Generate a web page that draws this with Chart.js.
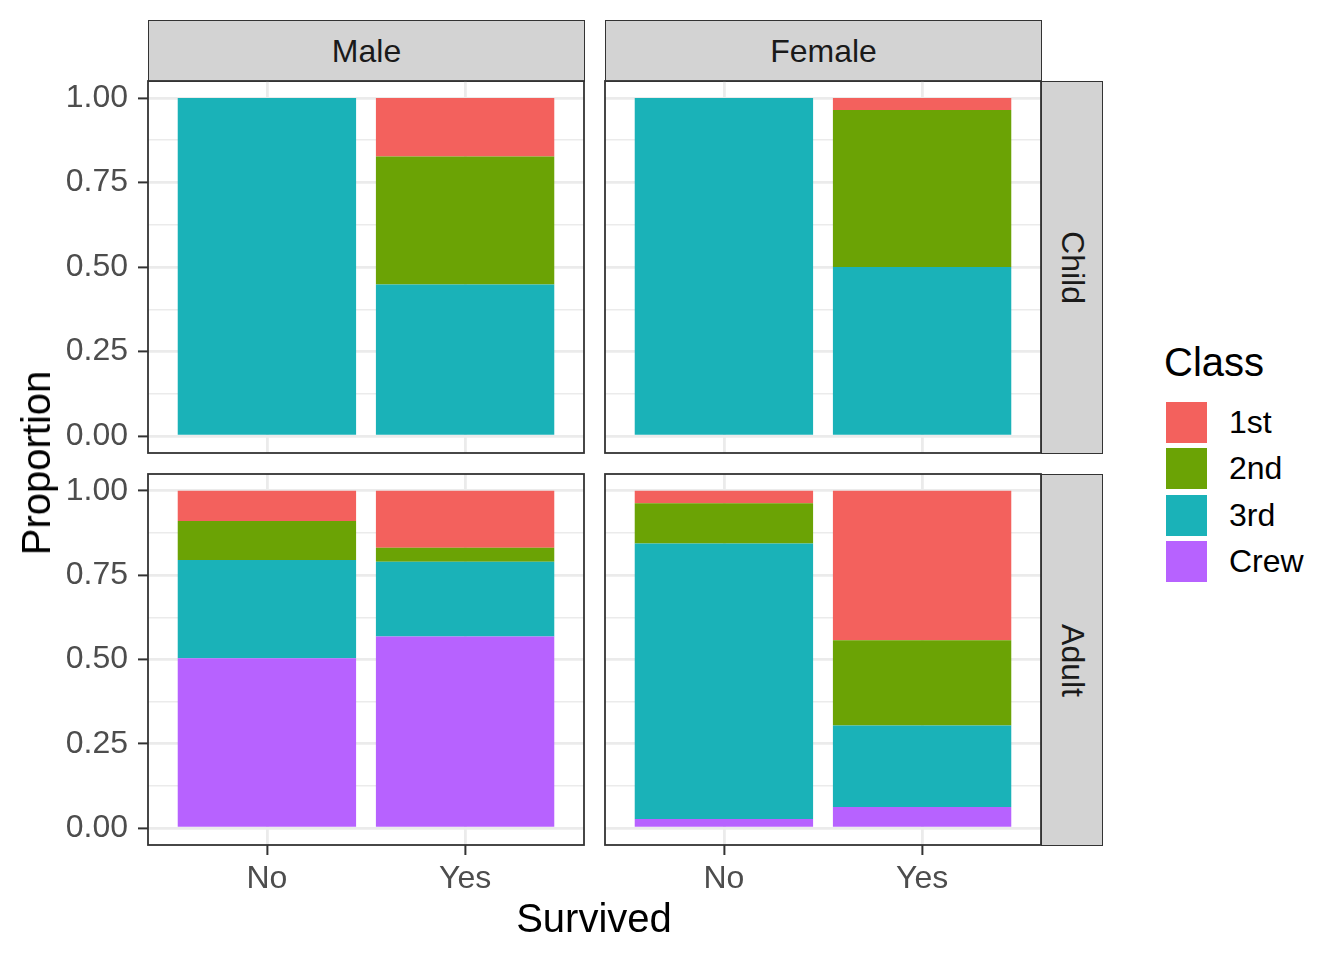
<!DOCTYPE html>
<html><head><meta charset="utf-8">
<script src="https://cdn.jsdelivr.net/npm/chart.js@4.4.1/dist/chart.umd.min.js"></script>
<style>
body{margin:0;background:#fff;font-family:"Liberation Sans",Arial,sans-serif;}
#wrap{position:relative;width:1344px;height:960px;overflow:hidden;background:#fff}
canvas{position:absolute}
.strip{position:absolute;background:#D3D3D3;border:1.8px solid #333;box-sizing:border-box;display:flex;align-items:center;justify-content:center;color:#1A1A1A;font-size:32px}
.vt{transform:rotate(90deg);white-space:nowrap}
.key{position:absolute;left:1166px;width:41px;height:41px}
.klab{position:absolute;left:1229px;font-size:32px;color:#000;line-height:41px;height:41px}
.title{position:absolute;font-size:40px;line-height:40px;color:#000;white-space:nowrap}
</style></head><body><div id="wrap">
<div class="strip" style="left:148px;top:20px;width:437px;height:62px">Male</div>
<div class="strip" style="left:605px;top:20px;width:437px;height:62px">Female</div>
<div class="strip" style="left:1041px;top:81px;width:62px;height:373px"><span class="vt">Child</span></div>
<div class="strip" style="left:1041px;top:474px;width:62px;height:372px"><span class="vt">Adult</span></div>
<canvas id="c0"></canvas><canvas id="c1"></canvas><canvas id="c2"></canvas><canvas id="c3"></canvas>
<div class="title" style="left:36px;top:463px;transform:translate(-50%,-50%) rotate(-90deg)">Proportion</div>
<div class="title" style="left:594px;top:918px;transform:translate(-50%,-50%)">Survived</div>
<div class="title" style="left:1164px;top:342px;">Class</div>
<div id="legend"></div>
</div>
<script>
// Order of values in each class array:
// [Male Child No, Male Child Yes, Female Child No, Female Child Yes,
//  Male Adult No, Male Adult Yes, Female Adult No, Female Adult Yes]
const sexes = ['Male', 'Female'];
const ages = ['Child', 'Adult'];
const survived = ['No', 'Yes'];
const classes = ['1st', '2nd', '3rd', 'Crew'];
const p1st  = [0, 0.173, 0, 0.036, 0.089, 0.169, 0.037, 0.443];
const p2nd  = [0, 0.379, 0, 0.464, 0.116, 0.041, 0.119, 0.253];
const p3rd  = [1, 0.448, 1, 0.500, 0.291, 0.222, 0.817, 0.241];
const pCrew = [0, 0,     0, 0,     0.504, 0.568, 0.027, 0.063];
const yMajor = [0, 0.25, 0.5, 0.75, 1];
const yLabels = ['0.00', '0.25', '0.50', '0.75', '1.00'];
const yMinor = [0.125, 0.375, 0.625, 0.875];
const classColors = ['#F3615D', '#6BA305', '#1AB2B8', '#B762FF'];

const classData = [p1st, p2nd, p3rd, pCrew];

// legend
const leg = document.getElementById('legend');
const keyTops = [402, 448, 495, 541];
classes.forEach((c, i) => {
  const k = document.createElement('div'); k.className = 'key';
  k.style.top = keyTops[i] + 'px'; k.style.background = classColors[i]; leg.appendChild(k);
  const l = document.createElement('div'); l.className = 'klab';
  l.style.top = keyTops[i] + 'px'; l.textContent = c; leg.appendChild(l);
});

Chart.defaults.font.family = '"Liberation Sans", Arial, sans-serif';

const panelBorder = {
  id: 'panelBorder',
  afterDraw(chart) {
    const a = chart.chartArea, c = chart.ctx;
    c.save(); c.strokeStyle = '#333333'; c.lineWidth = 1.8;
    c.strokeRect(a.left, a.top, a.right - a.left, a.bottom - a.top);
    c.restore();
  }
};

const panelLeft = [148, 605];
const panelTop = [81, 474];
const panelH = [372, 371];
const panelW = 436;
const PAD = 40;
const isMinor = v => yMinor.includes(v);

function makePanel(ai, si) {
  const k = ai * 2 + si;
  const showY = si === 0, showX = ai === 1;
  const cv = document.getElementById('c' + k);
  const cLeft = showY ? 0 : panelLeft[si] - 10;
  const cTop = panelTop[ai] - PAD;
  const w = panelLeft[si] + panelW + 10 - cLeft;
  const xH = showX ? 70 : 0;
  const h = PAD + panelH[ai] + (showX ? 70 : PAD);
  cv.width = w; cv.height = h;
  cv.style.left = cLeft + 'px'; cv.style.top = cTop + 'px';
  cv.style.width = w + 'px'; cv.style.height = h + 'px';

  // stack bottom to top: Crew, 3rd, 2nd, 1st
  const order = [3, 2, 1, 0];
  const datasets = order.map(ci => ({
    label: classes[ci],
    data: survived.map((s, j) => ({ x: j + 1, y: classData[ci][k * 2 + j] })),
    backgroundColor: classColors[ci],
    borderWidth: 0,
    barPercentage: 0.9,
    categoryPercentage: 1.0
  }));

  new Chart(cv, {
    type: 'bar',
    data: { datasets },
    plugins: [panelBorder],
    options: {
      responsive: false, animation: false, devicePixelRatio: 1,
      layout: { padding: { left: showY ? 0 : 10, right: 10, top: PAD, bottom: showX ? 0 : PAD } },
      plugins: { legend: { display: false }, tooltip: { enabled: false } },
      scales: {
        x: {
          type: 'linear', min: 0.4, max: 2.6, stacked: true, offset: false,
          afterBuildTicks: s => { s.ticks = survived.map((v, i) => ({ value: i + 1 })); },
          afterFit: s => { s.height = xH; },
          ticks: {
            display: showX, autoSkip: false, maxRotation: 0, padding: 5,
            color: '#4D4D4D', font: { size: 32 },
            callback: v => survived[Math.round(v) - 1] || ''
          },
          grid: { offset: false, color: '#EBEBEB', lineWidth: 2.8, drawTicks: showX, tickLength: 10, tickWidth: 2, tickColor: '#333333' },
          border: { display: false }
        },
        y: {
          type: 'linear', min: -0.05, max: 1.05, stacked: true,
          afterBuildTicks: s => { s.ticks = yMajor.concat(yMinor).sort((a, b) => a - b).map(v => ({ value: v })); },
          afterFit: s => { s.width = showY ? panelLeft[0] : 0; },
          ticks: {
            display: showY, autoSkip: false, padding: 10,
            color: '#4D4D4D', font: { size: 32 },
            callback: v => { const i = yMajor.indexOf(v); return i >= 0 ? yLabels[i] : ''; }
          },
          grid: {
            color: '#EBEBEB',
            lineWidth: c => (c.tick && isMinor(c.tick.value)) ? 1.4 : 2.8,
            drawTicks: showY, tickLength: 10, tickWidth: 2,
            tickColor: c => (c.tick && isMinor(c.tick.value)) ? 'rgba(0,0,0,0)' : '#333333'
          },
          border: { display: false }
        }
      }
    }
  });
}

ages.forEach((a, ai) => sexes.forEach((s, si) => makePanel(ai, si)));
</script>
</body></html>
